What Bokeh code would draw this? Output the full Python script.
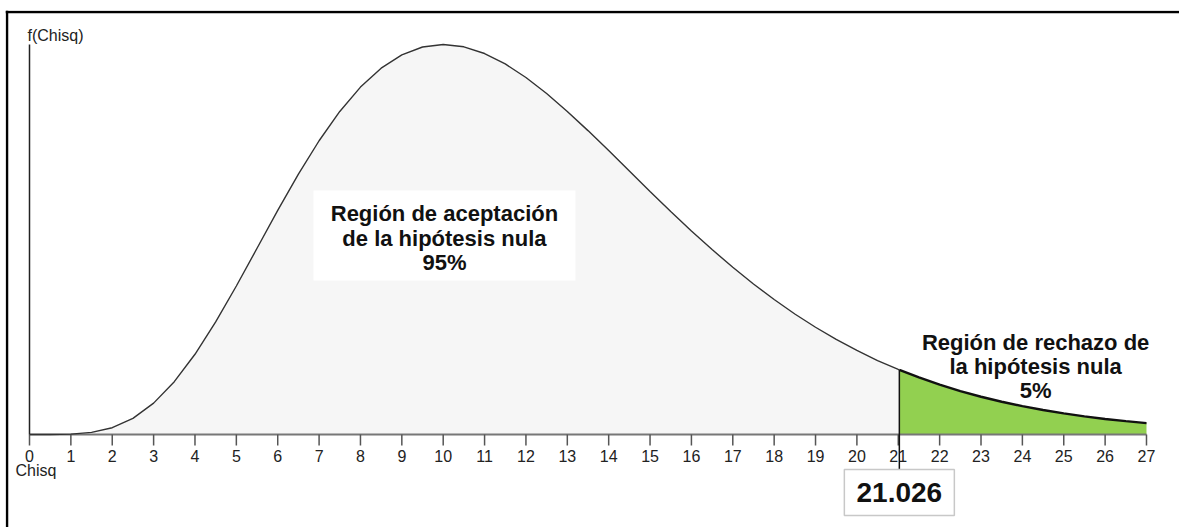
from bokeh.plotting import figure
from bokeh.models import Range1d, Span
from bokeh.core.properties import value
from bokeh.embed import file_html
from bokeh.resources import INLINE

# ---- data (chi-square density, values at half steps) ----
curve_x = [0, 0.5, 1, 1.5, 2, 2.5, 3, 3.5, 4, 4.5, 5, 5.5, 6, 6.5, 7, 7.5, 8, 8.5, 9, 9.5,
           10, 10.5, 11, 11.5, 12, 12.5, 13, 13.5, 14, 14.5, 15, 15.5, 16, 16.5, 17, 17.5,
           18, 18.5, 19, 19.5, 20, 20.5, 21, 21.026, 21.5, 22, 22.5, 23, 23.5, 24, 24.5,
           25, 25.5, 26, 26.5, 27]
curve_y = [0.0, 0.000003, 0.000079, 0.000467, 0.00153, 0.00364, 0.00706, 0.01188, 0.01805,
           0.02533, 0.0334, 0.04189, 0.05041, 0.05858, 0.06608, 0.07267, 0.07815, 0.08241,
           0.08541, 0.08717, 0.08773, 0.08721, 0.0857, 0.08336, 0.08031, 0.07671, 0.07268,
           0.06836, 0.06386, 0.05927, 0.05469, 0.05018, 0.0458, 0.0416, 0.03762, 0.03387,
           0.03036, 0.02711, 0.02413, 0.02138, 0.01892, 0.01663, 0.01464, 0.01454, 0.01283,
           0.01121, 0.00977, 0.00849, 0.00736, 0.00637, 0.0055, 0.00474, 0.00407, 0.0035,
           0.003, 0.00256]
critical_value = 21.026
tick_values = list(range(0, 28))
tick_labels = [str(t) for t in tick_values]
accept_lines = ["Región de aceptación", "de la hipótesis nula", "95%"]
reject_lines = ["Región de rechazo de", "la hipótesis nula", "5%"]
y_label = "f(Chisq)"
x_label = "Chisq"

# ---- frame geometry ----
W, H = 1179, 527
BL, BT = 5, 10          # frame offset (left, top)
PX_X = 41.37            # px per unit x
PX_Y = 4445.4           # px per unit y
x0_px = 29 - BL         # x=0 position inside frame
base_px = 434 - BT      # y=0 position from frame top
frame_w = W - BL
frame_h = H - BT

def dx(px):
    return px / PX_X

def dy(px):
    return px / PX_Y

xr = Range1d(-x0_px / PX_X, (frame_w - x0_px) / PX_X)
yr = Range1d(-(frame_h - base_px) / PX_Y, base_px / PX_Y)
p = figure(width=W, height=H, output_backend="svg", toolbar_location=None,
           x_axis_type=None, y_axis_type=None, x_range=xr, y_range=yr,
           min_border_left=BL, min_border_right=0, min_border_top=BT, min_border_bottom=0)
p.grid.visible = False
p.outline_line_color = None
p.background_fill_color = "white"
p.border_fill_color = "white"

# chart border (left and top edges visible)
p.add_layout(Span(location=xr.start + dx(1.5), dimension="height", line_color="black", line_width=2.5))
p.add_layout(Span(location=yr.end - dy(1.5), dimension="width", line_color="black", line_width=2.5))

acc_x = [x for x in curve_x if x <= critical_value]
acc_y = [y for x, y in zip(curve_x, curve_y) if x <= critical_value]
rej_x = [x for x in curve_x if x >= critical_value]
rej_y = [y for x, y in zip(curve_x, curve_y) if x >= critical_value]
crit_y = curve_y[curve_x.index(critical_value)]

FONT = value("Liberation Sans")

# fills
p.varea(x=acc_x, y1=[0] * len(acc_x), y2=acc_y, fill_color="#f6f6f6")
p.varea(x=rej_x, y1=[0] * len(rej_x), y2=rej_y, fill_color="#92d050")

# x axis baseline and ticks
p.line(x=[tick_values[0], tick_values[-1]], y=[0, 0], line_color="#777777", line_width=2)
p.segment(x0=tick_values, y0=[0] * len(tick_values), x1=tick_values,
          y1=[-dy(11)] * len(tick_values), line_color="#555555", line_width=1.5)
p.text(x=tick_values, y=[-dy(21)] * len(tick_values), text=tick_labels,
       text_font=FONT, text_font_size="16px", text_color="#222222",
       text_align="center", text_baseline="middle")
p.text(x=[-dx(14)], y=[-dy(36)], text=[x_label], text_font=FONT,
       text_font_size="16px", text_color="#222222", text_align="left", text_baseline="middle")

# y axis line and label
p.line(x=[0, 0], y=[0, curve_y[curve_x.index(10)]], line_color="#222222", line_width=1.5)
p.text(x=[-dx(2)], y=[dy(399)], text=[y_label], text_font=FONT,
       text_font_size="16px", text_color="#222222", text_align="left", text_baseline="middle")

# curve
p.line(x=acc_x, y=acc_y, line_color="#333333", line_width=1.4)
p.line(x=rej_x, y=rej_y, line_color="#111111", line_width=2.4)

# critical value line and box
p.line(x=[critical_value, critical_value], y=[crit_y, -dy(38)], line_color="#111111", line_width=1.5)
p.rect(x=[critical_value], y=[-dy(58)], width=dx(110), height=dy(46),
       fill_color="white", line_color="#c8c8c8", line_width=1.5)
p.text(x=[critical_value], y=[-dy(58)], text=[f"{critical_value:.3f}"],
       text_font=FONT, text_font_style="bold", text_font_size="28px",
       text_color="#111111", text_align="center", text_baseline="middle")

# acceptance label with white box
acc_cx = 10.03
p.rect(x=[acc_cx], y=[dy(199)], width=dx(262), height=dy(90),
       fill_color="white", line_color=None)
p.text(x=[acc_cx] * 3, y=[dy(221), dy(196), dy(172)], text=accept_lines,
       text_font=FONT, text_font_style="bold", text_font_size="22px",
       text_color="#111111", text_align="center", text_baseline="middle")

# rejection label
rej_cx = 24.32
p.text(x=[rej_cx] * 3, y=[dy(92), dy(68), dy(44)], text=reject_lines,
       text_font=FONT, text_font_style="bold", text_font_size="22px",
       text_color="#111111", text_align="center", text_baseline="middle")

open("out.html", "w").write(file_html(p, INLINE))
